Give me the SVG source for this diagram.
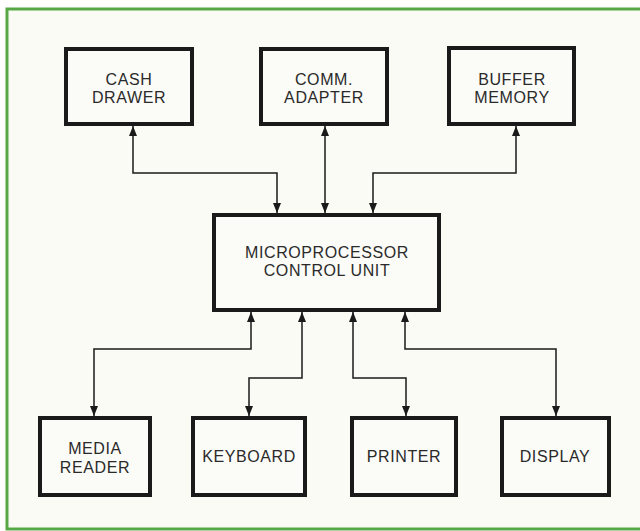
<svg xmlns="http://www.w3.org/2000/svg" width="640" height="531" viewBox="0 0 640 531">
<defs>
<marker id="ah" viewBox="0 0 10 8" refX="10" refY="4" markerWidth="10" markerHeight="8" markerUnits="userSpaceOnUse" orient="auto-start-reverse">
<path d="M0,0 L10,4 L0,8 z" fill="#1a1a1a"/>
</marker>
<style>
.box{fill:#fbfbf7;stroke:#1a1a1a;stroke-width:4}
.lbl{font-family:"Liberation Sans",Arial,sans-serif;font-size:16px;letter-spacing:0.6px;fill:#2a2a2a;text-anchor:middle}
.con{fill:none;stroke:#1a1a1a;stroke-width:1.5;marker-start:url(#ah);marker-end:url(#ah)}
</style>
</defs>
<rect x="0" y="0" width="640" height="531" fill="#ffffff"/>
<rect x="7" y="9" width="640" height="520" fill="#fbfbf6" stroke="#56a845" stroke-width="3"/>
<g id="connectors">
<path class="con" d="M133,126 V173 H277 V213"/>
<path class="con" d="M325,126 V213"/>
<path class="con" d="M516,126 V173 H373 V213"/>
<path class="con" d="M251,312 V349 H94 V416"/>
<path class="con" d="M302,312 V378 H249 V416"/>
<path class="con" d="M353,312 V378 H406 V416"/>
<path class="con" d="M405,312 V349 H556 V416"/>
</g>
<g id="cash-drawer">
<rect class="box" x="66" y="49" width="126" height="75"/>
<text class="lbl" x="129" y="85">CASH</text>
<text class="lbl" x="129" y="103">DRAWER</text>
</g>
<g id="comm-adapter">
<rect class="box" x="261" y="49" width="126" height="75"/>
<text class="lbl" x="324" y="85">COMM.</text>
<text class="lbl" x="324" y="103">ADAPTER</text>
</g>
<g id="buffer-memory">
<rect class="box" x="449" y="48" width="125" height="76"/>
<text class="lbl" x="512" y="85">BUFFER</text>
<text class="lbl" x="512" y="103">MEMORY</text>
</g>
<g id="mcu">
<rect class="box" x="214" y="215" width="225" height="95"/>
<text class="lbl" x="327" y="258">MICROPROCESSOR</text>
<text class="lbl" x="327" y="276">CONTROL UNIT</text>
</g>
<g id="media-reader">
<rect class="box" x="40" y="418" width="110" height="77"/>
<text class="lbl" x="95" y="454">MEDIA</text>
<text class="lbl" x="95" y="473">READER</text>
</g>
<g id="keyboard">
<rect class="box" x="193" y="418" width="112" height="77"/>
<text class="lbl" x="249" y="462">KEYBOARD</text>
</g>
<g id="printer">
<rect class="box" x="352" y="418" width="104" height="77"/>
<text class="lbl" x="404" y="462">PRINTER</text>
</g>
<g id="display">
<rect class="box" x="502" y="418" width="107" height="77"/>
<text class="lbl" x="555" y="462">DISPLAY</text>
</g>
</svg>
